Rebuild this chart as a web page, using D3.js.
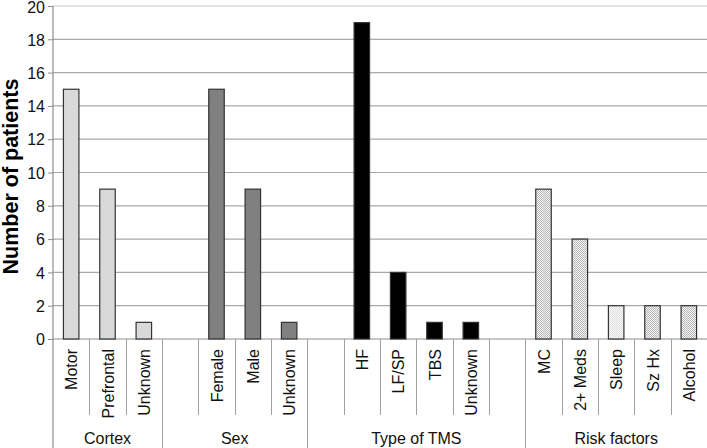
<!DOCTYPE html>
<html>
<head>
<meta charset="utf-8">
<script src="https://cdn.jsdelivr.net/npm/d3@7"></script>
<style>
  body { margin: 0; background: #fff; }
  text { font-family: "Liberation Sans", Arial, sans-serif; }
</style>
</head>
<body>
<div id="chart"></div>
<script>
// groups along the x axis, each with its own slots ("" = empty slot)
var groups = ["Cortex", "Sex", "Type of TMS", "Risk factors"];
var cortexLabels = ["Motor", "Prefrontal", "Unknown"];
var cortexValues = [15, 9, 1];
var sexLabels = ["", "Female", "Male", "Unknown"];
var sexValues = [null, 15, 9, 1];
var tmsLabels = ["", "HF", "LF/SP", "TBS", "Unknown", ""];
var tmsValues = [null, 19, 4, 1, 1, null];
var riskLabels = ["MC", "2+ Meds", "Sleep", "Sz Hx", "Alcohol"];
var riskValues = [9, 6, 2, 2, 2];
var yTicks = [0, 2, 4, 6, 8, 10, 12, 14, 16, 18, 20];

var groupLabels = [cortexLabels, sexLabels, tmsLabels, riskLabels];
var groupValues = [cortexValues, sexValues, tmsValues, riskValues];
var fills = ["#d9d9d9", "#808080", "#000000", "url(#dotsDark)"];

// flatten into slots
var slots = [];
groups.forEach(function (g, gi) {
    groupLabels[gi].forEach(function (lab, i) {
        slots.push({ key: gi + "_" + i, group: gi, label: lab, value: groupValues[gi][i] });
    });
});

var w = 707, h = 448;
var padLeft = 53, padRight = 707, padTop = 6, axisY = 339;

var svg = d3.select("#chart").append("svg")
    .attr("width", w)
    .attr("height", h);

// dotted patterns for risk factors
var defs = svg.append("defs");
function dots(id, color) {
    var p = defs.append("pattern")
        .attr("id", id)
        .attr("width", 2).attr("height", 2)
        .attr("patternUnits", "userSpaceOnUse");
    p.append("rect").attr("width", 2).attr("height", 2).attr("fill", "#f4f4f4");
    p.append("rect").attr("width", 1).attr("height", 1).attr("fill", color);
    p.append("rect").attr("x", 1).attr("y", 1).attr("width", 1).attr("height", 1).attr("fill", color);
}
dots("dotsDark", "#b8b8b8");
dots("dotsLight", "#e2e2e2");

var x = d3.scaleBand()
    .domain(slots.map(d => d.key))
    .range([padLeft, padRight]);

var y = d3.scaleLinear()
    .domain([0, 20])
    .range([axisY, padTop]);

// gridlines
svg.append("g")
    .selectAll("line")
    .data(yTicks.slice(1))
    .enter().append("line")
    .attr("x1", padLeft).attr("x2", padRight)
    .attr("y1", d => y(d)).attr("y2", d => y(d))
    .attr("stroke", d => d == 20 ? "#c8c8c8" : "#a8a8a8")
    .attr("stroke-width", 1.2);

// y axis
var yaxis = d3.axisLeft(y)
    .tickValues(yTicks)
    .tickSize(5)
    .tickFormat(d3.format("d"));
var ya = svg.append("g")
    .attr("transform", "translate(" + padLeft + ",0)")
    .call(yaxis);
ya.select(".domain").attr("stroke", "#8c8c8c").attr("stroke-width", 1.2).attr("d", "M0," + padTop + "V" + h);
ya.selectAll(".tick line").attr("stroke", "#8c8c8c");
ya.selectAll(".tick text")
    .attr("x", -8)
    .attr("dy", d => d == 20 ? "0.42em" : "0.36em")
    .attr("font-size", 16)
    .attr("font-family", "Liberation Sans, Arial, sans-serif")
    .attr("fill", "#111");

svg.append("text")
    .attr("transform", "translate(18," + ((padTop + axisY) / 2 + 4) + ") rotate(-90)")
    .attr("text-anchor", "middle")
    .attr("font-size", 21.5)
    .attr("font-weight", "bold")
    .attr("fill", "#000")
    .text("Number of patients");

// x axis baseline
svg.append("line")
    .attr("x1", padLeft).attr("x2", padRight)
    .attr("y1", axisY).attr("y2", axisY)
    .attr("stroke", "#8c8c8c").attr("stroke-width", 1.2);

// slot dividers: short within a group, long at group boundaries
var boundaries = [];
var prev = -1;
slots.forEach(function (d, i) {
    if (i > 0) boundaries.push({ x: x(d.key), long: d.group != prev });
    prev = d.group;
});
boundaries.push({ x: padRight, long: true });
svg.append("g")
    .selectAll("line")
    .data(boundaries)
    .enter().append("line")
    .attr("x1", d => Math.round(d.x) + 0.5).attr("x2", d => Math.round(d.x) + 0.5)
    .attr("y1", axisY)
    .attr("y2", d => d.long ? h : 415)
    .attr("stroke", "#a0a0a0").attr("stroke-width", 1);

// bars
var bw = 15.5;
svg.append("g")
    .selectAll("rect")
    .data(slots.filter(d => d.value != null))
    .enter().append("rect")
    .attr("x", d => x(d.key) + x.bandwidth() / 2 - bw / 2)
    .attr("width", bw)
    .attr("y", d => y(d.value))
    .attr("height", d => y(0) - y(d.value))
    .attr("fill", d => d.label == "Sleep" ? "url(#dotsLight)" : fills[d.group])
    .attr("stroke", "#333")
    .attr("stroke-width", 1.2);

// category labels, rotated
svg.append("g")
    .selectAll("text")
    .data(slots.filter(d => d.label != ""))
    .enter().append("text")
    .attr("transform", d => "translate(" + (x(d.key) + x.bandwidth() / 2 + 6) + ",349) rotate(-90)")
    .attr("text-anchor", "end")
    .attr("font-size", 16)
    .attr("fill", "#111")
    .text(d => d.label);

// group labels
svg.append("g")
    .selectAll("text")
    .data(groups)
    .enter().append("text")
    .attr("x", function (g, gi) {
        var s = slots.filter(d => d.group == gi);
        return (x(s[0].key) + x(s[s.length - 1].key) + x.bandwidth()) / 2;
    })
    .attr("y", 444)
    .attr("text-anchor", "middle")
    .attr("font-size", 16)
    .attr("fill", "#111")
    .text(d => d);
</script>
</body>
</html>
